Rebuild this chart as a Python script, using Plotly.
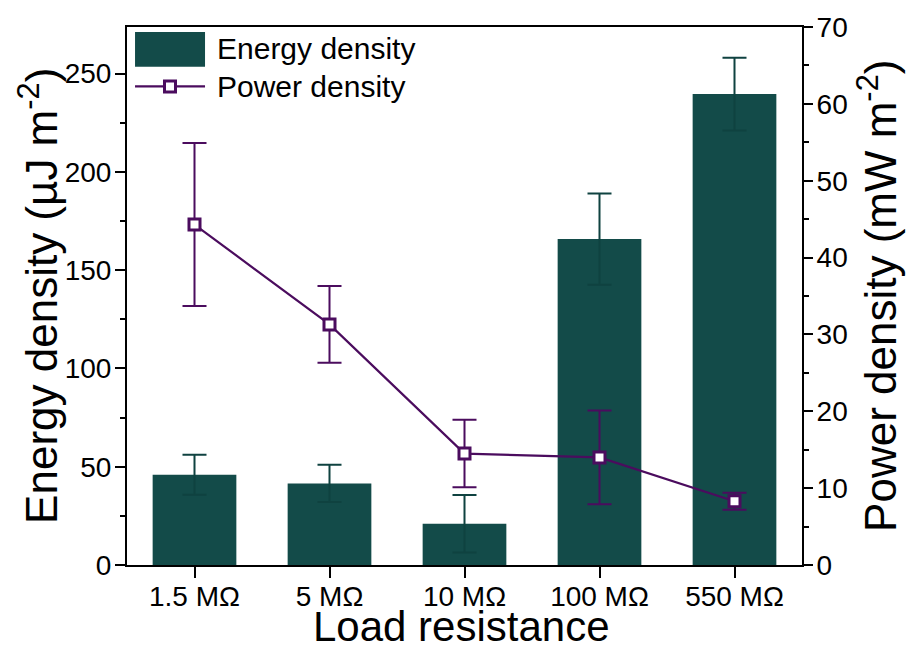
import plotly.graph_objects as go

categories = ["1.5 MΩ", "5 MΩ", "10 MΩ", "100 MΩ", "550 MΩ"]
energy = [45.9, 41.5, 21.0, 165.8, 239.6]
energy_err = [10.2, 9.5, 14.6, 23.2, 18.5]
power = [44.3, 31.3, 14.5, 14.0, 8.3]
power_err = [10.6, 5.0, 4.4, 6.1, 1.1]

BAR = "#134b49"
BAR_ERR = "#0f4240"
PUR = "#4b0c5e"
FONT = "Liberation Sans, Arial, sans-serif"
TICK = 28

fig = go.Figure()
fig.add_trace(go.Bar(
    x=categories, y=energy, width=0.62, name="Energy density",
    marker=dict(color=BAR, line=dict(width=0)),
    error_y=dict(type="data", array=energy_err, visible=True,
                 color=BAR_ERR, thickness=2, width=12),
    yaxis="y", showlegend=False))
fig.add_trace(go.Scatter(
    x=categories, y=power, name="Power density", mode="lines+markers",
    line=dict(color=PUR, width=2.2),
    marker=dict(symbol="square", size=11, color="white",
                line=dict(color=PUR, width=3)),
    error_y=dict(type="data", array=power_err, visible=True,
                 color=PUR, thickness=2, width=12),
    yaxis="y2", showlegend=False))

fig.update_layout(
    width=909, height=652,
    margin=dict(l=127, r=107, t=22, b=87),
    paper_bgcolor="white", plot_bgcolor="white",
    font=dict(family=FONT, color="black", size=TICK),
    xaxis=dict(type="category", range=[-0.5, 4.5], showline=True, linecolor="black",
               linewidth=2, mirror=True, ticks="outside", ticklen=11, tickwidth=2,
               tickcolor="black", showgrid=False, zeroline=False,
               ticklabelstandoff=-6,
               tickfont=dict(size=TICK, family=FONT)),
    yaxis=dict(range=[0, 273.7], dtick=50, showline=True, linecolor="black", linewidth=2,
               ticks="outside", ticklen=10, tickwidth=2, tickcolor="black",
               showgrid=False, zeroline=False, tickfont=dict(size=TICK, family=FONT),
               ticklabelstandoff=-2,
               minor=dict(dtick=25, ticks="outside", ticklen=5, tickwidth=2,
                          tickcolor="black")),
    yaxis2=dict(range=[0, 70], dtick=10, overlaying="y", side="right", showline=True,
                linecolor="black", linewidth=2, ticks="outside", ticklen=9, tickwidth=2,
                tickcolor="black", showgrid=False, zeroline=False,
                ticklabelstandoff=-2,
                tickfont=dict(size=TICK, family=FONT),
                minor=dict(dtick=5, ticks="outside", ticklen=5, tickwidth=2,
                           tickcolor="black")),
    showlegend=False,
)

# axis titles
fig.add_annotation(text="Energy density (µJ m<sup>-2</sup>)", xref="paper", yref="paper",
                   x=-0.132, y=0.5, textangle=-90, showarrow=False,
                   xanchor="center", yanchor="middle", font=dict(size=44, family=FONT))
fig.add_annotation(text="Power density (mW m<sup>-2</sup>)", xref="paper", yref="paper",
                   x=1.111, y=0.5, textangle=-90, showarrow=False,
                   xanchor="center", yanchor="middle", font=dict(size=44, family=FONT))
fig.add_annotation(text="Load resistance", xref="paper", yref="paper",
                   x=0.496, y=-0.1615, showarrow=False,
                   xanchor="center", yanchor="bottom", font=dict(size=42, family=FONT))

# legend
fig.add_shape(type="rect", xref="paper", yref="paper", x0=0.0119, x1=0.1156,
              y0=0.9263, y1=0.9908, fillcolor=BAR, line=dict(width=0))
fig.add_shape(type="line", xref="paper", yref="paper", x0=0.0119, x1=0.1156,
              y0=0.8895, y1=0.8895, line=dict(color=PUR, width=2.2))
fig.add_shape(type="rect", xref="paper", yref="paper", xsizemode="pixel", ysizemode="pixel",
              xanchor=0.0637, yanchor=0.8895, x0=-5.5, x1=5.5, y0=-5.5, y1=5.5,
              fillcolor="white", line=dict(color=PUR, width=3))
fig.add_annotation(text="Energy density", xref="paper", yref="paper", x=0.1304, y=0.9595,
                   showarrow=False, xanchor="left", yanchor="middle",
                   font=dict(size=30, family=FONT))
fig.add_annotation(text="Power density", xref="paper", yref="paper", x=0.1304, y=0.8895,
                   showarrow=False, xanchor="left", yanchor="middle",
                   font=dict(size=30, family=FONT))

fig.write_html("out.html")
